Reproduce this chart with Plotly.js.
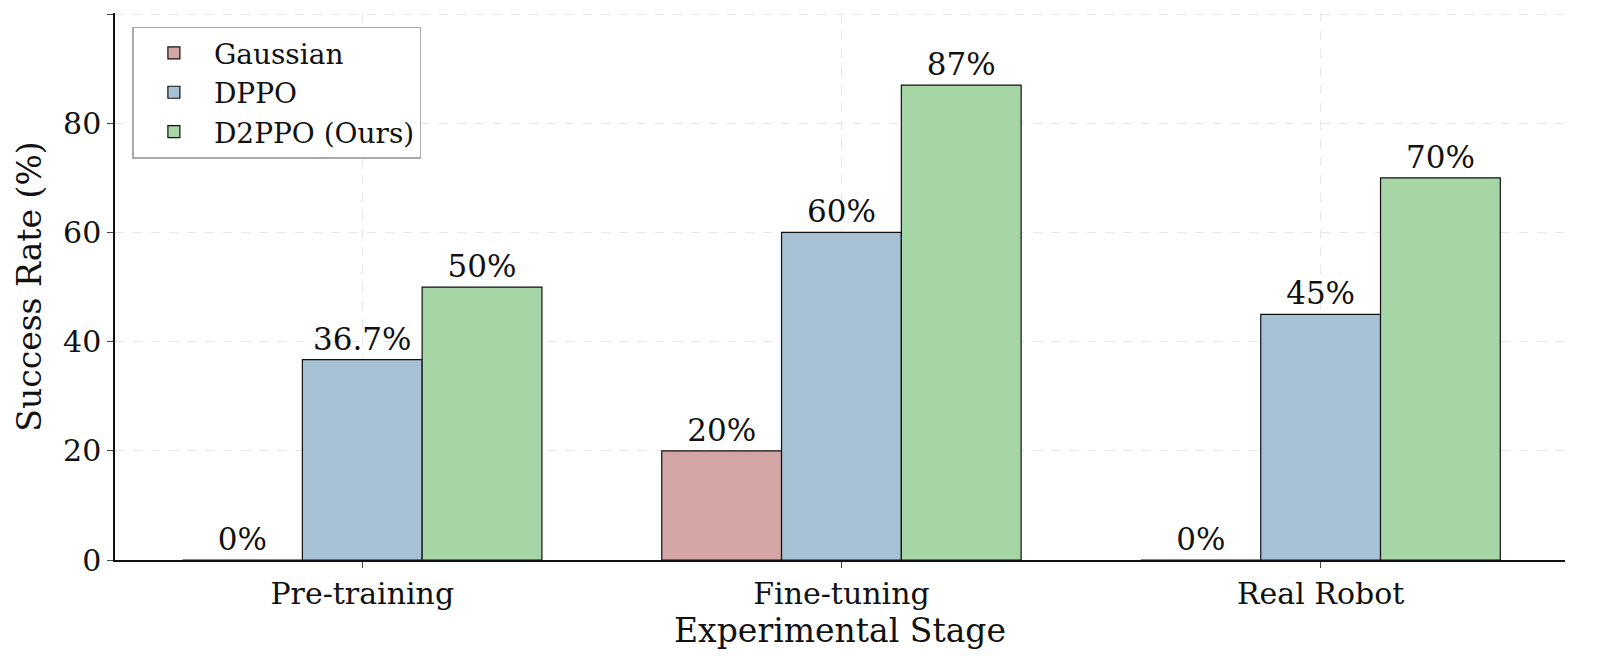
<!DOCTYPE html>
<html><head><meta charset="utf-8">
<script src="https://cdn.plot.ly/plotly-3.0.1.min.js"></script>
<style>body{margin:0}</style></head>
<body><div id="chart" style="width:1600px;height:658px"></div>
<script>
var stages = ['Pre-training', 'Fine-tuning', 'Real Robot'];
var gaussian = [0, 20, 0];
var dppo = [36.7, 60, 45];
var d2ppo = [50, 87, 70];
var labGaussian = ['0%', '20%', '0%'];
var labDppo = ['36.7%', '60%', '45%'];
var labD2ppo = ['50%', '87%', '70%'];

function series(name, y, lab, color) {
	return {
		type: 'bar', name: name, x: stages, y: y, text: lab,
		textposition: 'outside', cliponaxis: false,
		textfont: {size: 31, color: '#111'},
		marker: {color: color, line: {color: '#111', width: 1.2}}
	};
}

var data = [
	series('Gaussian', gaussian, labGaussian, '#d4a5a5'),
	series('DPPO', dppo, labDppo, '#a6c1d4'),
	series('D2PPO (Ours)', d2ppo, labD2ppo, '#a6d5a6')
];

var layout = {
	font: {family: 'DejaVu Serif', color: '#111'},
	barmode: 'group', bargap: 0.25, bargroupgap: 0,
	margin: {l: 115, r: 35, t: 13, b: 98},
	paper_bgcolor: 'white', plot_bgcolor: 'white',
	xaxis: {
		range: [-0.516, 2.51], showline: true, linecolor: '#111', linewidth: 1.5,
		ticks: 'outside', ticklen: 6, tickfont: {size: 30},
		showgrid: true, gridcolor: '#e6e6e6', griddash: 'dash',
		title: {text: 'Experimental Stage', font: {size: 33}, standoff: 2}
	},
	yaxis: {
		range: [0, 100.2], dtick: 20, showline: true, linecolor: '#111', linewidth: 1.5,
		ticks: 'outside', ticklen: 6, tickfont: {size: 30},
		showgrid: true, gridcolor: '#e6e6e6', griddash: 'dash', zeroline: false,
		title: {text: 'Success Rate (%)', font: {size: 33}, standoff: 12}
	},
	legend: {
		x: 0.012, y: 0.975, xanchor: 'left', yanchor: 'top',
		bgcolor: 'white', bordercolor: '#aaa', borderwidth: 1.5,
		font: {size: 28}, itemwidth: 70, tracegroupgap: 6
	},
	showlegend: true
};

Plotly.newPlot('chart', data, layout, {displayModeBar: false});
</script></body></html>
